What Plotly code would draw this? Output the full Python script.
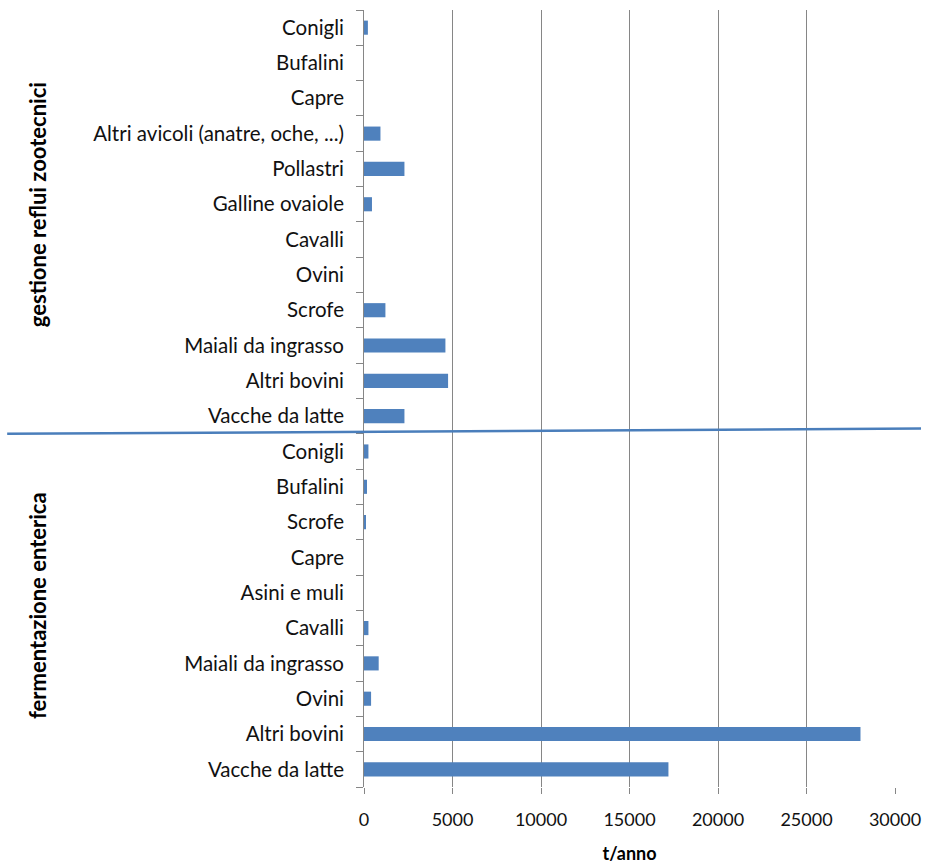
import plotly.graph_objects as go

# Categories listed bottom-to-top (first item is drawn at the bottom)
enteric_labels = ["Vacche da latte", "Altri bovini", "Ovini", "Maiali da ingrasso",
                  "Cavalli", "Asini e muli", "Capre", "Scrofe", "Bufalini", "Conigli"]
enteric_values = [17200, 28050, 400, 830, 250, 0, 0, 110, 170, 250]

manure_labels = ["Vacche da latte", "Altri bovini", "Maiali da ingrasso", "Scrofe", "Ovini",
                 "Cavalli", "Galline ovaiole", "Pollastri", "Altri avicoli (anatre, oche, ...)",
                 "Capre", "Bufalini", "Conigli"]
manure_values = [2285, 4750, 4600, 1210, 0, 0, 450, 2285, 930, 0, 0, 220]

group_names = ["fermentazione enterica", "gestione reflui zootecnici"]
x_ticks = [0, 5000, 10000, 15000, 20000, 25000, 30000]

labels = enteric_labels + manure_labels
values = enteric_values + manure_values
positions = list(range(len(labels)))
n = len(labels)

BAR = "#4F81BD"
FONT = "Lato"

fig = go.Figure()
fig.add_trace(go.Bar(
    x=values, y=positions, orientation="h", width=0.4,
    marker=dict(color=BAR, line=dict(width=0)),
    hoverinfo="x", showlegend=False,
))
# invisible trace carrying the category labels on the overlaid axis
fig.add_trace(go.Scatter(x=[None], y=[None], yaxis="y2", showlegend=False, hoverinfo="skip"))

yrange = [-0.5, n - 0.5]
fig.update_layout(
    width=929, height=865,
    margin=dict(l=364, r=34, t=10, b=78),
    paper_bgcolor="white", plot_bgcolor="white",
    font=dict(family=FONT, size=19, color="#000000"),
    xaxis=dict(
        range=[0, 30000], tickvals=x_ticks, ticktext=[str(v) for v in x_ticks],
        showgrid=True, gridcolor="#868686", gridwidth=1,
        zeroline=False, showline=False, automargin=False,
        ticks="outside", ticklen=6, tickcolor="#868686",
        ticklabelstandoff=10,
        tickfont=dict(size=18, color="#111111"),
        title=dict(text="<b>t/anno</b>", font=dict(size=18), standoff=18),
    ),
    yaxis=dict(
        range=yrange, tickvals=[i - 0.5 for i in range(n + 1)],
        ticktext=["" for _ in range(n + 1)], automargin=False,
        ticks="outside", ticklen=7, tickcolor="#868686",
        showgrid=False, zeroline=False,
        showline=True, linecolor="#868686", linewidth=1,
    ),
    yaxis2=dict(
        range=yrange, overlaying="y", side="left", automargin=False,
        tickvals=positions, ticktext=labels,
        ticks="", showgrid=False, zeroline=False, showline=False,
        ticklabelstandoff=19,
        tickfont=dict(size=20.5, color="#111111"),
    ),
)

# group captions, rotated, centred on each block of categories
group_mid = [(len(enteric_labels) - 1) / 2 + 0.15,
             len(enteric_labels) + (len(manure_labels) - 1) / 2 + 0.5]
for name, mid in zip(group_names, group_mid):
    fig.add_annotation(
        text=f"<b>{name}</b>", xref="paper", yref="y", x=-0.616, y=mid,
        xanchor="center", yanchor="middle",
        textangle=-90, showarrow=False, font=dict(size=22, color="#000000"),
    )

# separator between the two groups
boundary = len(enteric_labels) - 0.5
fig.add_shape(type="line", xref="paper", yref="y",
              x0=-0.672, x1=1.049, y0=boundary, y1=boundary + 0.15,
              line=dict(color="#4A7EBB", width=2.5))

fig.write_html("out.html")
